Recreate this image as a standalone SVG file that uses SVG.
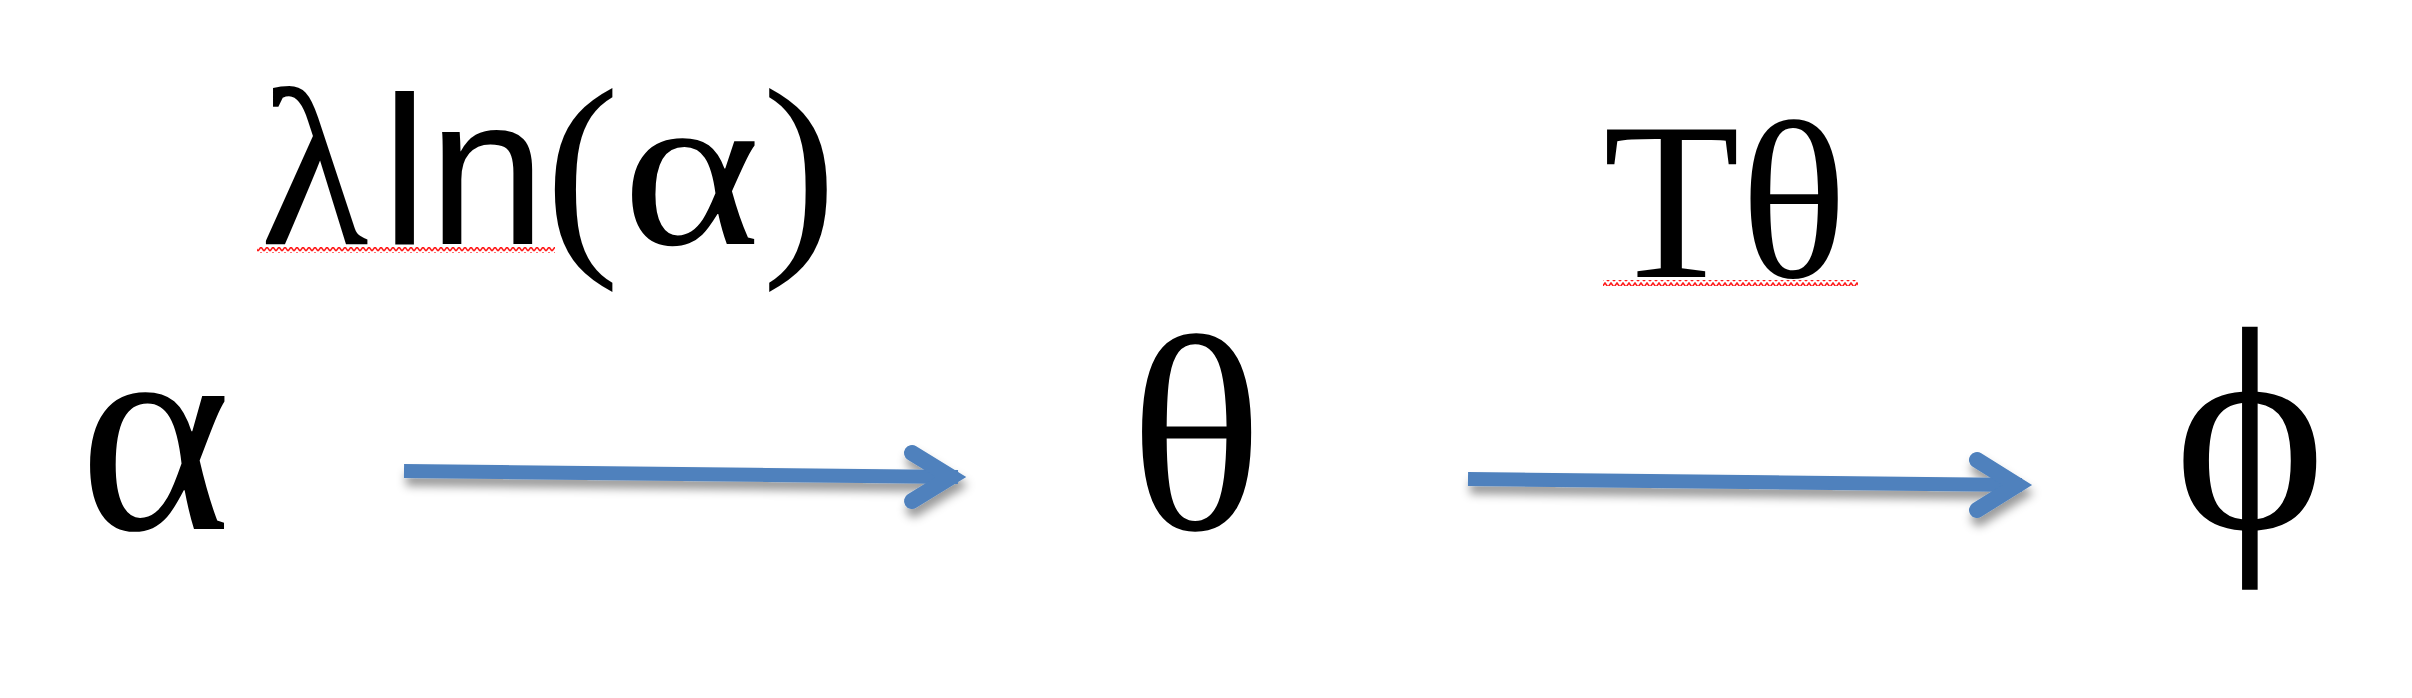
<svg xmlns="http://www.w3.org/2000/svg" width="2412" height="698" viewBox="0 0 2412 698">
  <defs>
    <style>
      .serif { font-family: "Liberation Serif", "Times New Roman", serif; fill: #000; }
      .sans { font-family: "Liberation Sans", Arial, sans-serif; fill: #000; }
      .big { font-size: 290px; }
      .lbl { font-size: 224px; }
      .shaft { fill: none; stroke: #4F81BD; stroke-width: 14; stroke-linecap: butt; }
      .head { fill: none; stroke: #4F81BD; stroke-width: 16; stroke-linecap: round; stroke-linejoin: miter; stroke-miterlimit: 6; }
    </style>
    <filter id="shadow" x="-10%" y="-100%" width="120%" height="300%">
      <feDropShadow dx="2" dy="8" stdDeviation="5" flood-color="#000" flood-opacity="0.4"/>
    </filter>
    <pattern id="squiggle" x="0" y="0" width="6" height="6" patternUnits="userSpaceOnUse">
      <path d="M0,5 L3,1 L6,5" fill="none" stroke="#ff1a1a" stroke-width="1.6"/>
    </pattern>
  </defs>
  <rect width="2412" height="698" fill="#fff"/>

  <g id="node-alpha">
    <text class="serif big" x="155" y="529" text-anchor="middle">α</text>
  </g>
  <g id="node-theta">
    <text class="serif" font-size="280" x="1196" y="529" text-anchor="middle">θ</text>
  </g>
  <g id="node-phi">
    <text class="serif big" x="2250" y="528" text-anchor="middle">ϕ</text>
  </g>

  <g id="connectors">
    <g id="edge-alpha-theta" filter="url(#shadow)">
      <path class="shaft" d="M404,471 L958,477"/>
      <polyline class="head" points="912,453 951,477 912,501"/>
    </g>
    <g id="edge-theta-phi" filter="url(#shadow)">
      <path class="shaft" d="M1468,479 L2022,485"/>
      <polyline class="head" points="1977,460 2017,485 1977,510"/>
    </g>
  </g>

  <g id="label-alpha-theta">
    <text class="lbl" y="244"><tspan class="serif" x="260">λ</tspan><tspan class="sans" x="381" font-size="212">ln</tspan><tspan class="serif" x="545">(</tspan><tspan class="serif" x="762">)</tspan></text>
    <text class="lbl serif" transform="translate(622,244) scale(1.18,1)" x="0" y="0">α</text>
    <rect x="257" y="247" width="298" height="6" fill="url(#squiggle)"/>
  </g>
  <g id="label-theta-phi">
    <text class="lbl serif" y="277"><tspan x="1603">T</tspan><tspan x="1740">θ</tspan></text>
    <rect x="1603" y="280" width="255" height="6" fill="url(#squiggle)"/>
  </g>
</svg>
